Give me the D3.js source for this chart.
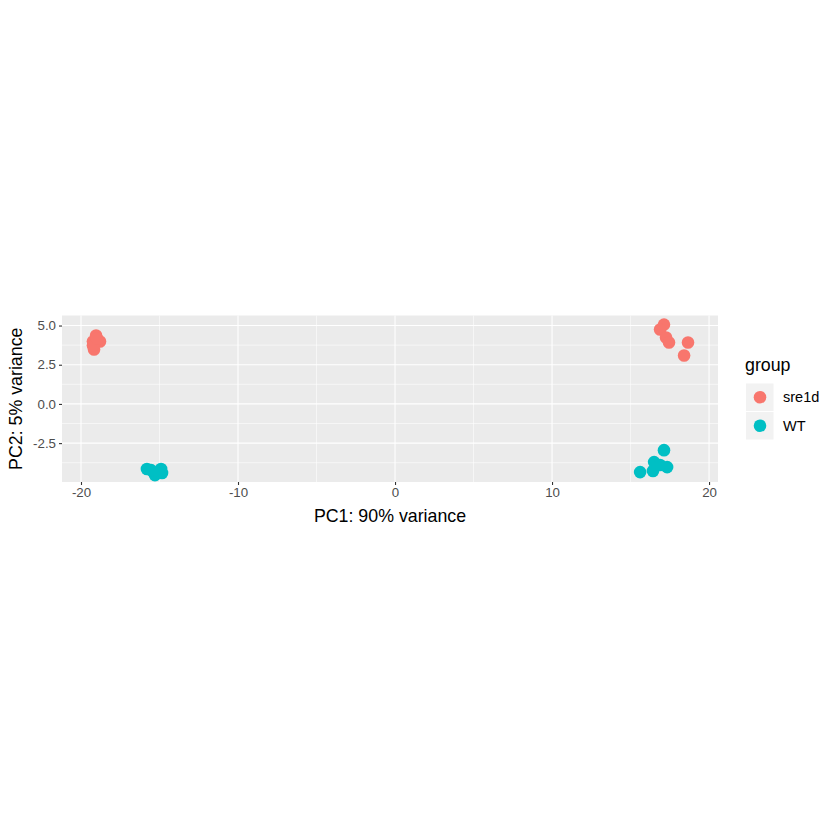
<!DOCTYPE html>
<html><head><meta charset="utf-8">
<script src="https://cdn.jsdelivr.net/npm/d3@7"></script>
<style>body{margin:0;background:#fff;}svg{display:block;font-family:"Liberation Sans",Arial,sans-serif;}</style>
</head><body>
<script>
const groups = ["sre1d","WT"];
const colors = ["#F8766D","#00BFC4"];
const pc1 = [-19.04,-19.24,-18.79,-19.17,-19.24,-18.98, 17.13,16.88,17.26,17.45,18.66,18.41,
             -15.80,-14.90,-15.29,-14.84,-15.54, 17.13,15.61,16.50,17.33,16.43,16.88];
const pc2 = [4.36,3.98,3.98,3.47,3.73,4.17, 5.06,4.75,4.24,3.92,3.92,3.09,
             -4.15,-4.15,-4.54,-4.41,-4.22, -2.95,-4.35,-3.71,-4.03,-4.28,-3.90];
const grp = ["sre1d","sre1d","sre1d","sre1d","sre1d","sre1d","sre1d","sre1d","sre1d","sre1d","sre1d","sre1d",
             "WT","WT","WT","WT","WT","WT","WT","WT","WT","WT","WT"];
const xTicks = [-20,-10,0,10,20];
const yTicks = [-2.5,0,2.5,5.0];
const xMinor = [-15,-5,5,15];
const yMinor = [-3.75,-1.25,1.25,3.75];

const W=840,H=840;
const svg=d3.select("body").append("svg").attr("width",W).attr("height",H);
const L=62,R=718,T=315.5,B=482;
const x=d3.scaleLinear().domain([-21.21,20.57]).range([L,R]);
const y=d3.scaleLinear().domain([-4.98,5.64]).range([B,T]);
const color=d3.scaleOrdinal().domain(groups).range(colors);

svg.append("rect").attr("x",L).attr("y",T).attr("width",R-L).attr("height",B-T).attr("fill","#EBEBEB");
const g=svg.append("g");
xMinor.forEach(v=>g.append("line").attr("x1",x(v)).attr("x2",x(v)).attr("y1",T).attr("y2",B).attr("stroke","#fff").attr("stroke-width",0.55));
yMinor.forEach(v=>g.append("line").attr("y1",y(v)).attr("y2",y(v)).attr("x1",L).attr("x2",R).attr("stroke","#fff").attr("stroke-width",0.55));
xTicks.forEach(v=>g.append("line").attr("x1",x(v)).attr("x2",x(v)).attr("y1",T).attr("y2",B).attr("stroke","#fff").attr("stroke-width",1.1));
yTicks.forEach(v=>g.append("line").attr("y1",y(v)).attr("y2",y(v)).attr("x1",L).attr("x2",R).attr("stroke","#fff").attr("stroke-width",1.1));

// axes
const xa=svg.append("g").attr("transform",`translate(0,${B})`)
  .call(d3.axisBottom(x).tickValues(xTicks).tickSize(3).tickPadding(3).tickFormat(d3.format("d")));
const ya=svg.append("g").attr("transform",`translate(${L},0)`)
  .call(d3.axisLeft(y).tickValues(yTicks).tickSize(3).tickPadding(3).tickFormat(d3.format(".1f")));
[xa,ya].forEach(a=>{a.select(".domain").remove();
  a.selectAll(".tick line").attr("stroke","#333").attr("stroke-width",1.1);
  a.selectAll(".tick text").attr("fill","#4D4D4D").style("font-size","13.3px").style("font-family","'Liberation Sans',Arial,sans-serif");});
xa.selectAll(".tick text").text(d=>d<0?"-"+Math.abs(d):d);
ya.selectAll(".tick text").text(d=>(d<0?"-":"")+Math.abs(d).toFixed(1));

// points
svg.append("g").selectAll("circle").data(pc1.map((v,i)=>({x:v,y:pc2[i],g:grp[i]})))
  .join("circle").attr("cx",d=>x(d.x)).attr("cy",d=>y(d.y)).attr("r",6.3).attr("fill",d=>color(d.g));

// titles
svg.append("text").attr("x",(L+R)/2).attr("y",521.5).attr("text-anchor","middle").style("font-size","17.8px").attr("fill","#000").text("PC1: 90% variance");
svg.append("text").attr("transform",`translate(21.5,${(T+B)/2}) rotate(-90)`).attr("text-anchor","middle").style("font-size","17.8px").attr("fill","#000").text("PC2: 5% variance");

// legend
svg.append("text").attr("x",745).attr("y",371).style("font-size","17.8px").text("group");
groups.forEach((gname,i)=>{
  const yy=383.5+i*28.5;
  svg.append("rect").attr("x",746).attr("y",yy).attr("width",27.5).attr("height",27.5).attr("fill","#F2F2F2");
  svg.append("circle").attr("cx",760).attr("cy",yy+13.75).attr("r",6.3).attr("fill",color(gname));
  svg.append("text").attr("x",783).attr("y",yy+13.75).attr("dy","0.35em").style("font-size","14.5px").text(gname);
});
</script>
</body></html>
